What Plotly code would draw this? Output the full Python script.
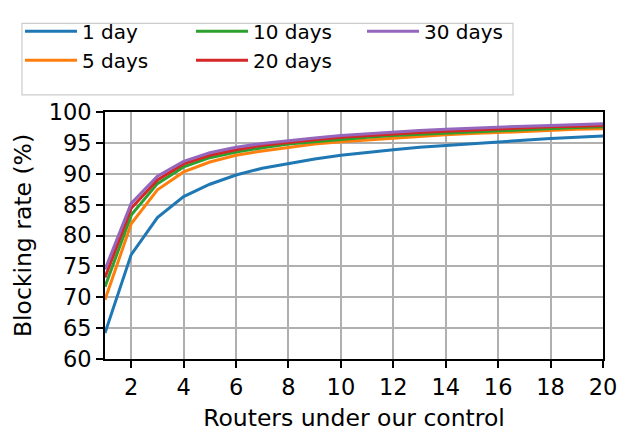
import plotly.graph_objects as go

routers = list(range(1, 21))

day_1 = [64.2, 76.9, 82.9, 86.3, 88.3, 89.8, 90.9, 91.7, 92.4, 93.0,
         93.5, 93.9, 94.3, 94.6, 94.9, 95.2, 95.4, 95.7, 95.9, 96.1]
days_5 = [69.6, 81.9, 87.4, 90.3, 91.9, 93.0, 93.7, 94.3, 94.8, 95.2,
          95.5, 95.8, 96.1, 96.3, 96.5, 96.7, 96.9, 97.0, 97.2, 97.3]
days_10 = [71.7, 83.3, 88.4, 91.1, 92.6, 93.5, 94.2, 94.8, 95.2, 95.6,
           95.9, 96.2, 96.4, 96.6, 96.8, 97.0, 97.2, 97.3, 97.5, 97.6]
days_20 = [73.2, 84.4, 89.0, 91.6, 93.0, 93.9, 94.6, 95.1, 95.5, 95.9,
           96.2, 96.4, 96.7, 96.9, 97.1, 97.3, 97.4, 97.6, 97.7, 97.8]
days_30 = [74.5, 85.2, 89.6, 92.0, 93.4, 94.3, 94.9, 95.4, 95.8, 96.2,
           96.5, 96.7, 97.0, 97.2, 97.4, 97.5, 97.7, 97.8, 98.0, 98.1]

# name, values, colour, legend rank (3 columns filled column by column)
series = [('1 day', day_1, '#1f77b4', 1),
          ('5 days', days_5, '#ff7f0e', 4),
          ('10 days', days_10, '#2ca02c', 2),
          ('20 days', days_20, '#d62728', 5),
          ('30 days', days_30, '#9467bd', 3)]

tick_font = dict(family='DejaVu Sans', size=22.5, color='black')
title_font = dict(family='DejaVu Sans', size=23.5, color='black')
leg_font = dict(family='DejaVu Sans', size=20, color='black')

W, H = 618, 433
L, R, T, B = 105, 15, 100, 74
pw, ph = W - L - R, H - T - B

fig = go.Figure()
for name, vals, color, rank in series:
	fig.add_trace(go.Scatter(
		x=routers,
		y=vals,
		name=name,
		mode='lines',
		line=dict(color=color, width=3),
		legendrank=rank,
	))

axis_common = dict(
	showline=True, linecolor='black', linewidth=1.6, mirror=True,
	ticks='outside', ticklen=7, tickwidth=1.6, tickcolor='black',
	showgrid=True, gridcolor='#b0b0b0', gridwidth=1.6,
	zeroline=False, tickfont=tick_font, automargin=False,
)

# legend frame
fig.add_shape(type='rect', xref='paper', yref='paper',
			  x0=(22-L)/pw, x1=(513-L)/pw,
			  y0=(T+ph-82)/ph, y1=(T+ph-7)/ph,
			  line=dict(color='#cccccc', width=1.2), fillcolor='white', layer='above')

fig.update_layout(
	width=W, height=H,
	plot_bgcolor='white', paper_bgcolor='white',
	font=tick_font,
	margin=dict(l=L, r=R, t=T, b=B),
	xaxis=dict(range=[1, 20], tickvals=list(range(2, 21, 2)),
			   title=dict(text='Routers under our control', font=title_font, standoff=11),
			   **axis_common),
	yaxis=dict(range=[60, 100], dtick=5,
			   title=dict(text='Blocking rate (%)', font=title_font, standoff=11),
			   **axis_common),
	legend=dict(orientation='h', xref='paper', yref='paper',
				x=(20-L)/pw, y=(T+ph+5)/ph, xanchor='left', yanchor='top',
				entrywidth=104, entrywidthmode='pixels',
				bgcolor='rgba(0,0,0,0)', borderwidth=0,
				font=leg_font, itemwidth=52),
	showlegend=True,
)

fig.write_html('out.html', config={'displayModeBar': False},
			   post_script="document.body.style.margin='0';")
